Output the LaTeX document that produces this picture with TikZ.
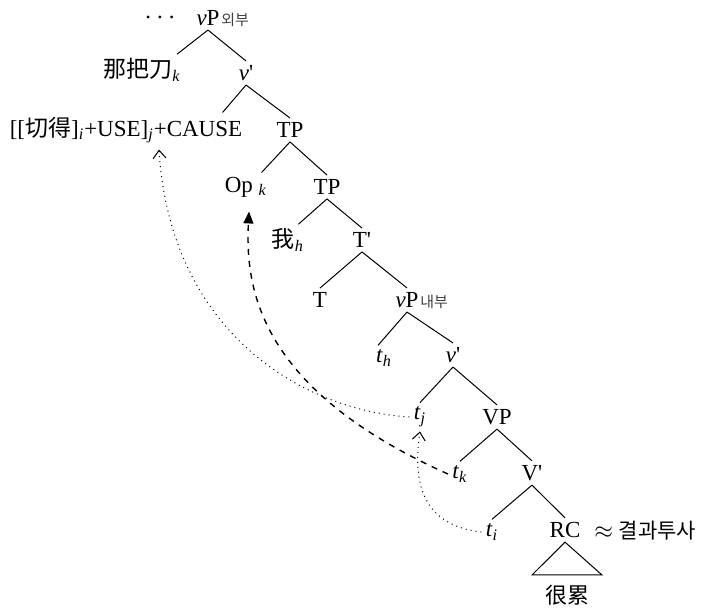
\documentclass[tikz,border=0pt]{standalone}
\usepackage{fontspec}
\setmainfont{Liberation Serif}
\newfontfamily\krfont{Noto Sans CJK KR}
\newfontfamily\zhfont{Noto Sans CJK SC}
\usetikzlibrary{positioning,arrows.meta,calc}
\newcommand{\subi}[1]{\textsubscript{\textit{#1}}}
\newcommand{\trc}[1]{\textit{t}\subi{#1}}
\newcommand{\brk}{\textquotesingle}

\begin{document}
\begin{tikzpicture}[
  x=0.5pt,
  y=-0.5pt,
  lab/.style={
    inner sep=2pt,
    font=\fontsize{11.5pt}{13pt}\selectfont
  },
  sublab/.style={
    inner sep=0pt,
    text=black!75,
    font=\krfont\fontsize{7.5pt}{8pt}\selectfont
  },
  branch/.style={draw=black,line width=.5pt},
  movedot/.style={draw=black,dotted,line width=.5pt,
    -{Straight Barb[length=4pt,width=6.5pt]}},
  movedash/.style={draw=black,dashed,line width=.7pt,
    -{Triangle[length=6pt,width=5pt]}}
]
  \useasboundingbox (0,0) rectangle (702,614);

  % labels of the tree
  \node[lab] (dots) at (160,17) {.\hspace{3pt}.\hspace{3pt}.};
  \node[lab] (vPo) at (208,18) {\textit{v}P};
  \node[sublab,anchor=base west] (vPosub) at ([xshift=-1.5pt]vPo.base east) {외부};
  \node[lab] (knife) at (142,70) {{\zhfont 那把刀}\subi{k}};
  \node[lab] (v1) at (246,73) {\textit{v}\brk};
  \node[lab] (cause) at (126,130) {[[{\zhfont 切得}]\subi{i}+USE]\subi{j}+CAUSE};
  \node[lab] (tp1) at (290,130) {TP};
  \node[lab] (opk) at (246,187) {Op \subi{k}};
  \node[lab] (tp2) at (327,187) {TP};
  \node[lab] (wo) at (288,240) {{\zhfont 我}\subi{h}};
  \node[lab] (tbar) at (362,240) {T\brk};
  \node[lab] (t) at (320,300) {T};
  \node[lab] (vPi) at (407,300) {\textit{v}P};
  \node[sublab,anchor=base west] (vPisub) at ([xshift=-1.5pt]vPi.base east) {내부};
  \node[lab] (th) at (384,358) {\trc{h}};
  \node[lab] (v2) at (453,355) {\textit{v}\brk};
  \node[lab] (tj) at (420,417) {\trc{j}};
  \node[lab] (vp) at (497,417) {VP};
  \node[lab] (tk) at (460,474) {\trc{k}};
  \node[lab] (vbar) at (532,473) {V\brk};
  \node[lab] (ti) at (492,532) {\trc{i}};
  \node[lab] (rc) at (565,530) {RC};
  \node[lab,anchor=west] (approx) at (590,531)
    {$\approx$ {\krfont\fontsize{10.5pt}{12pt}\selectfont 결과투사}};
  \node[lab] (henlei) at (567,595) {\zhfont\fontsize{11pt}{12pt}\selectfont 很累};

  % branches
  \draw[branch] (vPo.south) -- ([xshift=-4pt]knife.north east);
  \draw[branch] (vPo.south) -- (v1.north);
  \draw[branch] (v1.south) -- ([xshift=-12pt]cause.north east);
  \draw[branch] (v1.south) -- (tp1.north);
  \draw[branch] (tp1.south) -- ([xshift=-5pt]opk.north east);
  \draw[branch] (tp1.south) -- (tp2.north);
  \draw[branch] (tp2.south) -- ([xshift=-5pt]wo.north east);
  \draw[branch] (tp2.south) -- (tbar.north);
  \draw[branch] (tbar.south) -- (t.north);
  \draw[branch] (tbar.south) -- (vPi.north);
  \draw[branch] (vPi.south) -- ([xshift=-3pt]th.north);
  \draw[branch] (vPi.south) -- (v2.north);
  \draw[branch] (v2.south) -- (tj.north);
  \draw[branch] (v2.south) -- (vp.north);
  \draw[branch] (vp.south) -- (tk.north);
  \draw[branch] (vp.south) -- (vbar.north);
  \draw[branch] (vbar.south) -- (ti.north);
  \draw[branch] (vbar.south) -- (rc.north);

  % triangle under RC
  \coordinate (triL) at (532,575);
  \coordinate (triR) at (602,575);
  \draw[branch] (rc.south) -- (triL) -- (triR) -- cycle;

  % movement
  \draw[movedot] (tj.west) .. controls (300,410) and (170,330) .. ($(cause.south)+(33,2)$);
  \draw[movedash] (tk.west) .. controls (260,390) and (245,290) .. ($(opk.south)+(3,10)$);
  \draw[movedot] (ti.west) .. controls (420,525) and (413,480) .. (tj.south);
\end{tikzpicture}
\end{document}
